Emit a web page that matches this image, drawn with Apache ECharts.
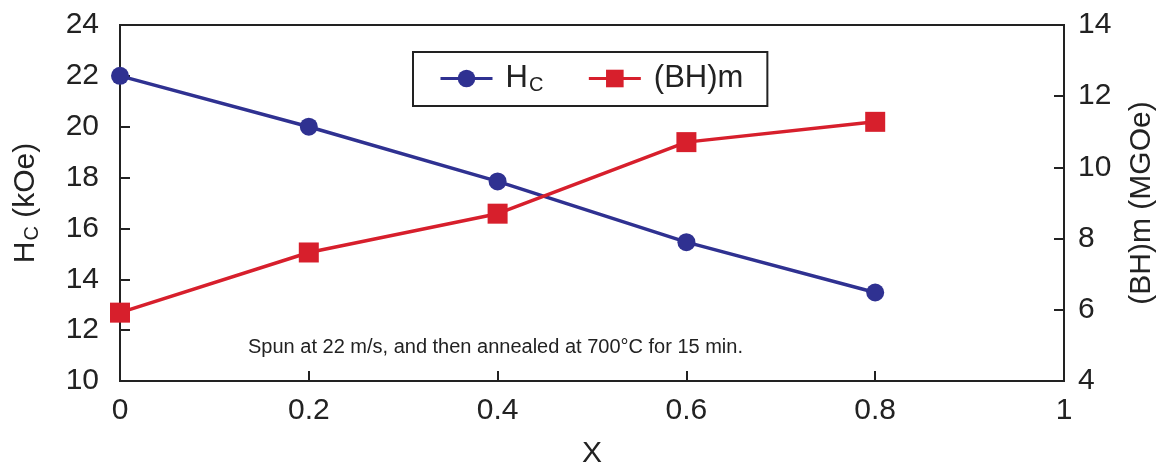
<!DOCTYPE html>
<html>
<head>
<meta charset="utf-8">
<script src="https://cdn.jsdelivr.net/npm/echarts@6/dist/echarts.min.js"></script>
<style>html,body{margin:0;padding:0;background:#fff;}#c{width:1168px;height:463px;}</style>
</head>
<body>
<div id="c"></div>
<script>
var xValues = [0, 0.2, 0.4, 0.6, 0.8];
var hcValues = [22.0, 20.0, 17.85, 15.46, 13.48];
var bhValues = [5.92, 7.61, 8.70, 10.71, 11.28];
var annotation = 'Spun at 22 m/s, and then annealed at 700\u00B0C for 15 min.';

var FONT = '"Liberation Sans", Arial, Helvetica, sans-serif';
var BLUE = '#2f3191';
var RED = '#d71f2c';
var INK = '#222';

var chart = echarts.init(document.getElementById('c'));
chart.setOption({
  animation: false,
  textStyle: { fontFamily: FONT },
  grid: { left: 120, right: 104, top: 25, bottom: 82, show: true, borderColor: INK, borderWidth: 2, containLabel: false, outerBoundsMode: 'none' },
  legend: {
    left: 413, top: 52,
    padding: [11, 24, 11, 26],
    borderColor: INK, borderWidth: 2,
    itemWidth: 52, itemHeight: 22, itemGap: 44,
    data: ['Hc', '(BH)m'],
    lineStyle: { width: 3 },
    formatter: function (n) { return n === 'Hc' ? '{b|H}{s|C}' : '{b|' + n + '}'; },
    textStyle: {
      padding: [0, 0, 0, 8],
      rich: {
        b: { fontSize: 31, fontFamily: FONT, color: INK },
        s: { fontSize: 20, fontFamily: FONT, color: INK, padding: [13, 0, 0, 1] }
      }
    }
  },
  xAxis: {
    type: 'value', min: 0, max: 1, interval: 0.2,
    name: 'X', nameLocation: 'middle', nameGap: 58,
    nameTextStyle: { fontSize: 30, color: INK, fontFamily: FONT },
    axisLine: { show: false },
    axisTick: { show: true, inside: true, length: 10, lineStyle: { color: INK, width: 2 } },
    axisLabel: { fontSize: 30, color: INK, margin: 15, fontFamily: FONT },
    splitLine: { show: false }
  },
  yAxis: [
    {
      type: 'value', min: 10, max: 24, interval: 2, position: 'left',
      name: '{b|H}{s|C}{b| (kOe)}', nameLocation: 'middle', nameGap: 78, nameRotate: 90,
      nameTextStyle: {
        rich: {
          b: { fontSize: 30, color: INK, fontFamily: FONT },
          s: { fontSize: 20, color: INK, fontFamily: FONT, padding: [13, 0, 0, 1] }
        }
      },
      axisLine: { show: false },
      axisTick: { show: true, inside: true, length: 10, lineStyle: { color: INK, width: 2 } },
      axisLabel: { fontSize: 30, color: INK, margin: 21, fontFamily: FONT },
      splitLine: { show: false }
    },
    {
      type: 'value', min: 4, max: 14, interval: 2, position: 'right',
      name: '(BH)m (MGOe)', nameLocation: 'middle', nameGap: 63, nameRotate: 90,
      nameTextStyle: { fontSize: 30, color: INK, fontFamily: FONT },
      axisLine: { show: false },
      axisTick: { show: true, inside: true, length: 10, lineStyle: { color: INK, width: 2 } },
      axisLabel: { fontSize: 30, color: INK, margin: 14, fontFamily: FONT },
      splitLine: { show: false }
    }
  ],
  graphic: [{
    type: 'text', left: 248, top: 337,
    style: { text: annotation, fontSize: 20, fill: INK, fontFamily: FONT }
  }],
  series: [
    {
      name: 'Hc', type: 'line', yAxisIndex: 0,
      data: xValues.map(function (x, i) { return [x, hcValues[i]]; }),
      symbol: 'circle', symbolSize: 18,
      lineStyle: { color: BLUE, width: 3.5 }, itemStyle: { color: BLUE }
    },
    {
      name: '(BH)m', type: 'line', yAxisIndex: 1,
      data: xValues.map(function (x, i) { return [x, bhValues[i]]; }),
      symbol: 'rect', symbolSize: 20,
      lineStyle: { color: RED, width: 3.5 }, itemStyle: { color: RED }
    }
  ]
});
</script>
</body>
</html>
